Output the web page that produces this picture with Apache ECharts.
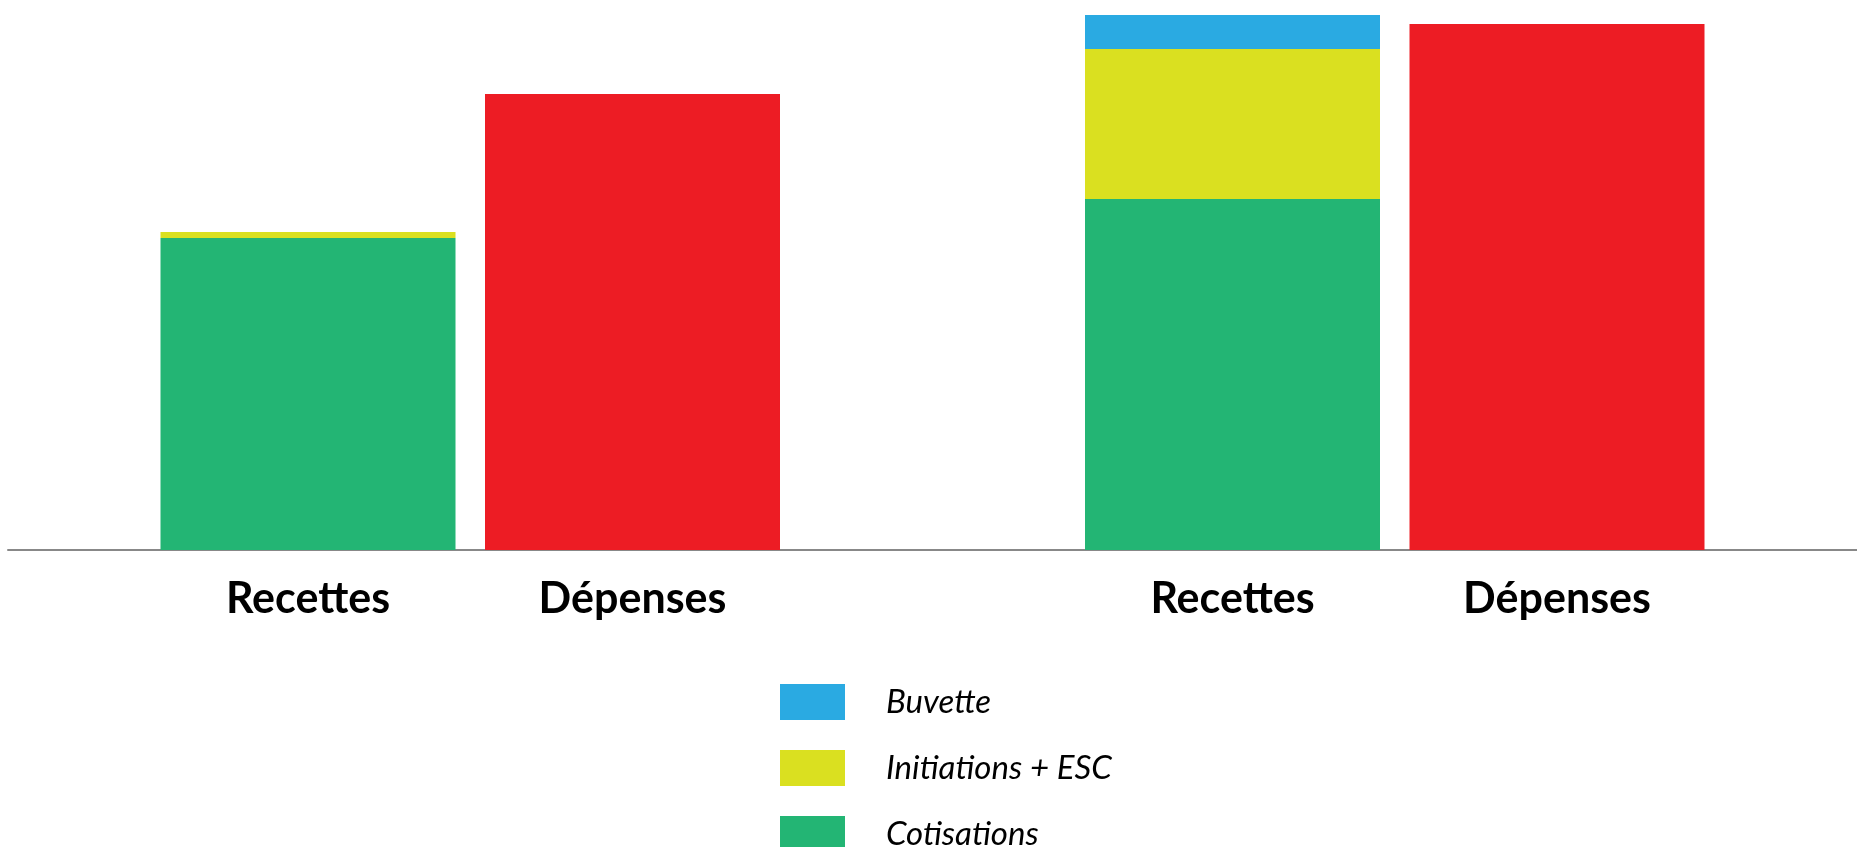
<!DOCTYPE html>
<html>
<head>
<meta charset="utf-8">
<script src="https://cdn.jsdelivr.net/npm/echarts@6/dist/echarts.min.js"></script>
<style>
html,body{margin:0;padding:0;background:#fff;}
#chart{width:1857px;height:847px;}
</style>
</head>
<body>
<div id="chart"></div>
<script>
// Data
var groups = ['Groupe 1', 'Groupe 2'];
var barLabels = ['Recettes', 'Dépenses'];
var cotisations = [15600, 17550];
var initiations = [300, 7500];
var buvette = [0, 1700];
var depenses = [22800, 26300];
var legendNames = ['Buvette', 'Initiations + ESC', 'Cotisations'];

var chart = echarts.init(document.getElementById('chart'));
var labelStyle = {
  show: true,
  position: ['50%', '100%'],
  offset: [0, 49],
  align: 'center',
  verticalAlign: 'middle',
  color: '#000',
  fontFamily: 'Lato',
  fontWeight: 'bold',
  fontSize: 43
};
chart.setOption({
  animation: false,
  backgroundColor: '#fff',
  grid: { left: 8, right: 0, top: 0, bottom: 297, containLabel: false },
  xAxis: {
    type: 'category',
    data: groups,
    axisLine: { show: true, lineStyle: { color: '#888888', width: 2 } },
    axisTick: { show: false },
    axisLabel: { show: false }
  },
  yAxis: {
    type: 'value',
    min: 0,
    max: 27500,
    show: false,
    splitLine: { show: false }
  },
  legend: {
    orient: 'vertical',
    left: 780,
    top: 684,
    height: 300,
    padding: 0,
    itemWidth: 65,
    itemHeight: 36,
    itemGap: 30,
    icon: 'rect',
    data: legendNames,
    textStyle: {
      fontFamily: 'Lato',
      fontStyle: 'italic',
      fontSize: 33,
      lineHeight: 36,
      color: '#000',
      padding: [0, 0, 0, 36]
    }
  },
  series: [
    {
      name: 'Cotisations', type: 'bar', stack: 'rec', barWidth: 295, barGap: '10%',
      itemStyle: { color: '#23B574' },
      label: Object.assign({}, labelStyle, { formatter: function(){ return barLabels[0]; } }),
      data: cotisations
    },
    {
      name: 'Initiations + ESC', type: 'bar', stack: 'rec', barWidth: 295, barGap: '10%',
      itemStyle: { color: '#DAE020' },
      data: initiations
    },
    {
      name: 'Buvette', type: 'bar', stack: 'rec', barWidth: 295, barGap: '10%',
      itemStyle: { color: '#2AAAE2' },
      data: buvette
    },
    {
      name: 'Dépenses', type: 'bar', barWidth: 295, barGap: '10%',
      itemStyle: { color: '#ED1C24' },
      label: Object.assign({}, labelStyle, { formatter: function(){ return barLabels[1]; } }),
      data: depenses
    }
  ]
});
</script>
</body>
</html>
